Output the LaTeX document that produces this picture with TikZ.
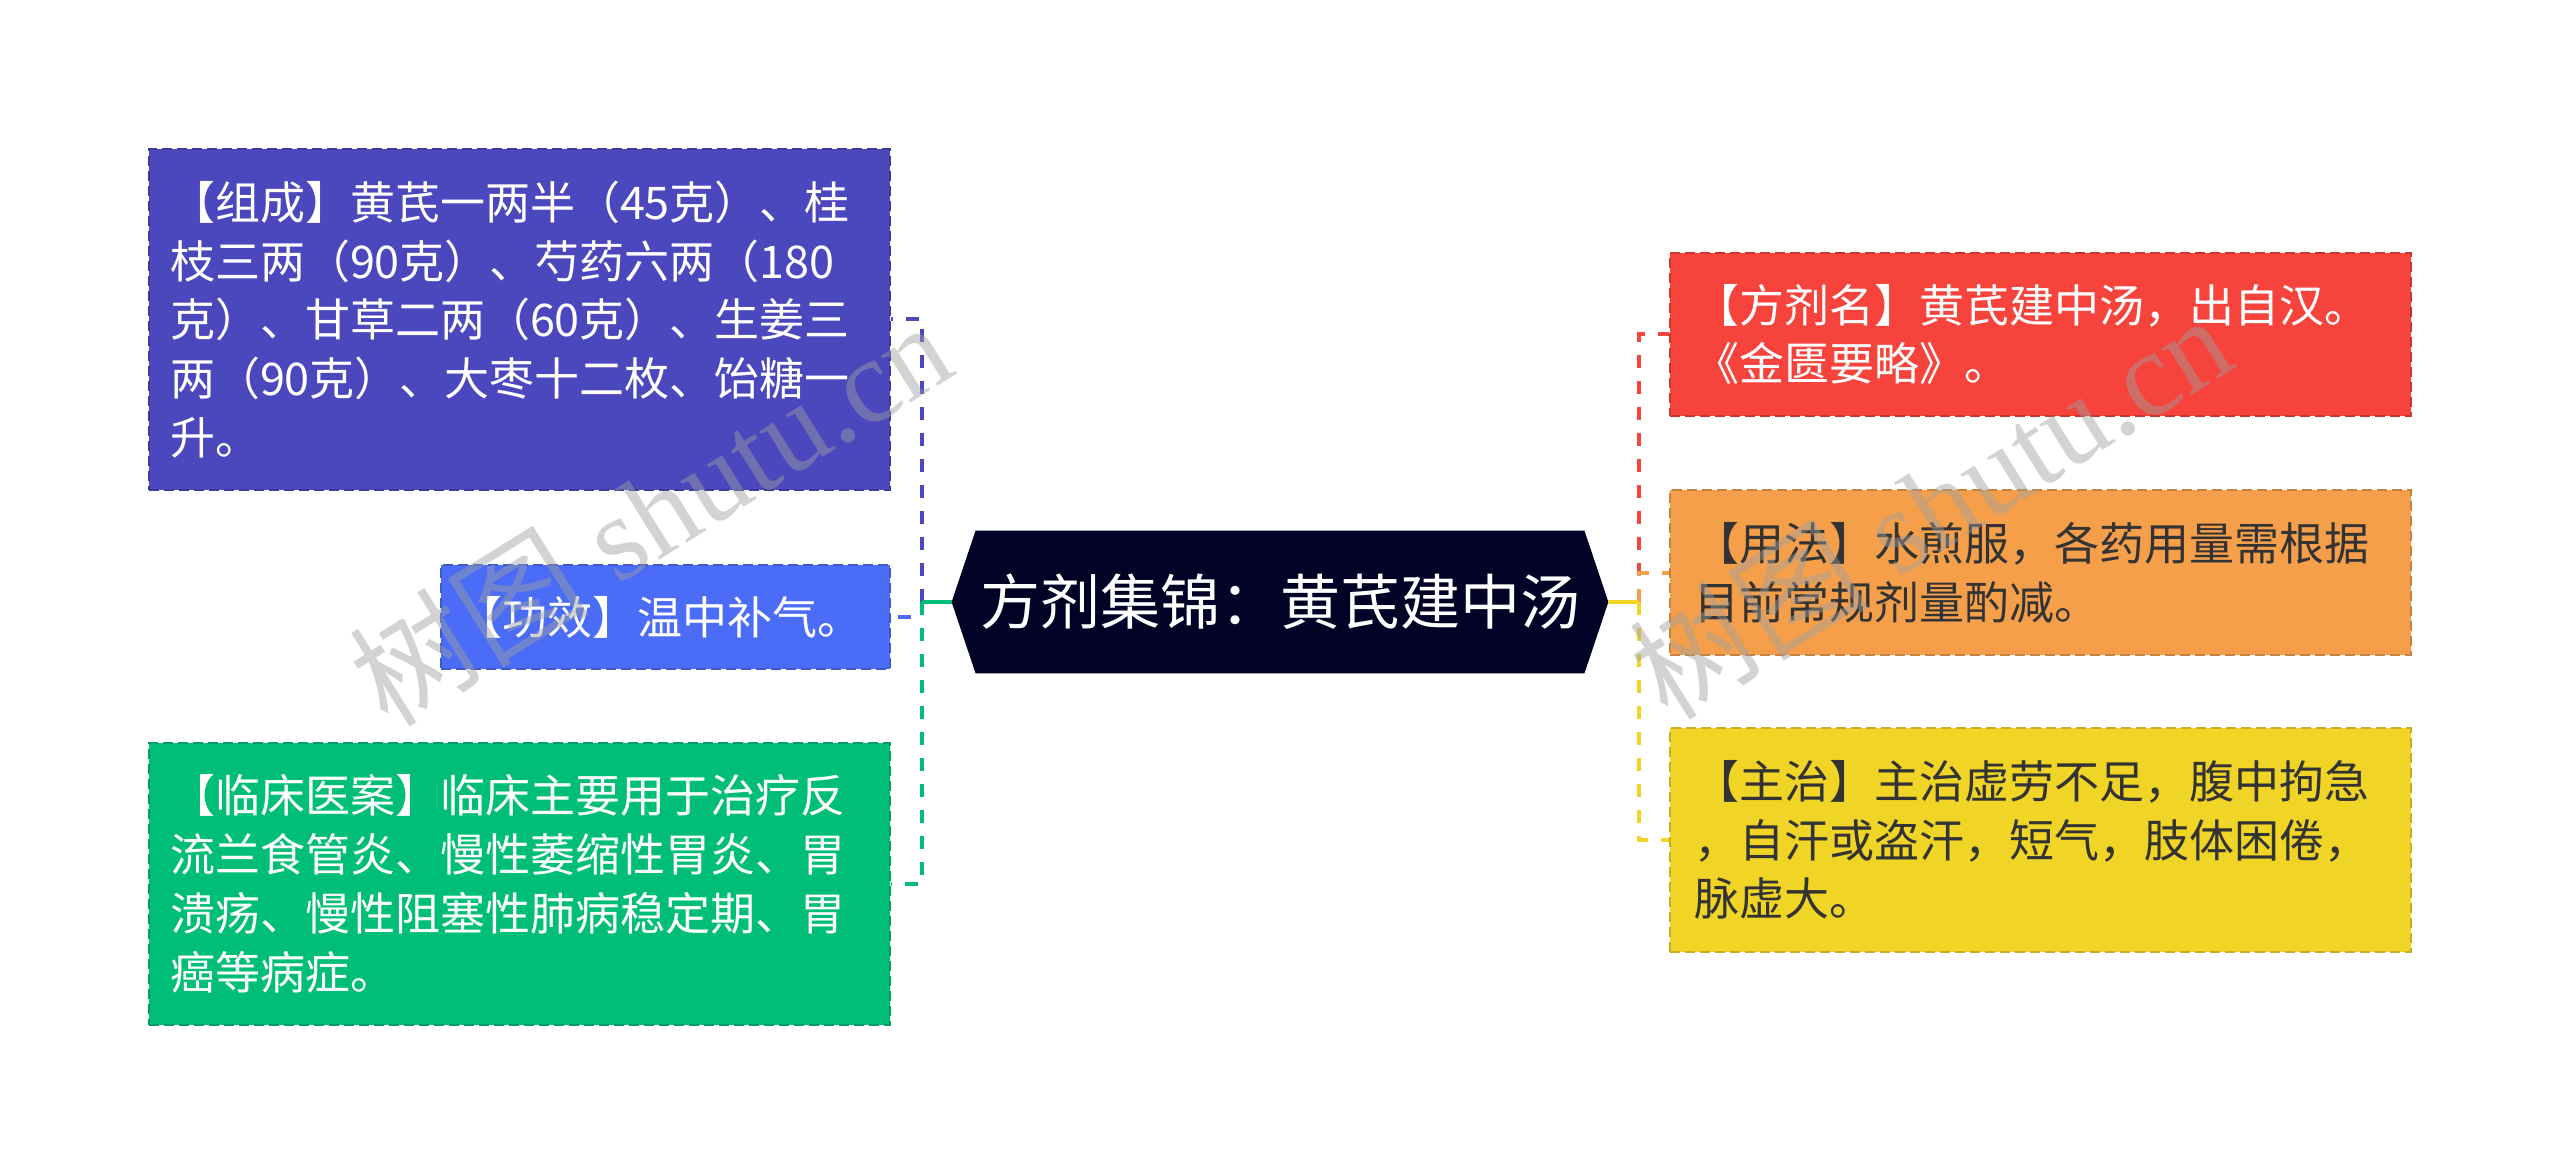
\documentclass[tikz,border=0pt]{standalone}
\usepackage{fontspec}
\newfontfamily\cjk{Noto Sans CJK SC}
\newfontfamily\wmlatin{Liberation Serif}
\usetikzlibrary{calc}
\definecolor{cComp}{HTML}{4B48BE}
\definecolor{cGong}{HTML}{4A6CF6}
\definecolor{cClin}{HTML}{00BE78}
\definecolor{cHex}{HTML}{020226}
\definecolor{cName}{HTML}{F6433C}
\definecolor{cUse}{HTML}{F59F4A}
\definecolor{cZhu}{HTML}{F0D426}
\definecolor{cDark}{HTML}{333333}
\begin{document}
\begin{tikzpicture}[x=0.5pt,y=-0.5pt,
  box/.style={rectangle, draw=#1!82!black, fill=#1, dash pattern=on 5pt off 2.5pt,
    line width=1pt, align=left, inner xsep=12pt, inner ysep=0pt,
    font=\cjk\fontsize{22.5}{29.4}\selectfont},
  widebox/.style={box=#1, text width=346.5pt, minimum width=370.5pt},
  leftbox/.style={box=#1, inner xsep=10.5pt, text width=349.5pt, minimum width=370.5pt},
  link/.style={draw=#1, line width=2pt, dash pattern=on 6.5pt off 6.5pt},
  stub/.style={draw=#1, line width=2pt},
  wm/.style={text=gray!75, text opacity=0.45, inner sep=0pt}
]
\useasboundingbox (0,0) rectangle (2560,1176);
\fill[white] (0,0) rectangle (2560,1176);

% left boxes
\node[leftbox=cComp, text=white, minimum height=170.5pt] (comp) at (519.5,319.5)
 {【组成】黄芪一两半（45克）、桂\\枝三两（90克）、芍药六两（180\\克）、甘草二两（60克）、生姜三\\两（90克）、大枣十二枚、饴糖一\\升。};
\node[box=cGong, text=white, inner xsep=8pt, text width=208.5pt, minimum width=224.5pt, minimum height=52pt] (gong) at (665.5,617)
 {【功效】温中补气。};
\node[leftbox=cClin, text=white, minimum height=141pt] (clin) at (519.5,884)
 {【临床医案】临床主要用于治疗反\\流兰食管炎、慢性萎缩性胃炎、胃\\溃疡、慢性阻塞性肺病稳定期、胃\\癌等病症。};

% right boxes
\node[widebox=cName, text=white, minimum height=81.5pt] (name) at (2040.5,334.5)
 {【方剂名】黄芪建中汤，出自汉。\\《金匮要略》。};
\node[widebox=cUse, text=cDark, minimum height=82.5pt] (usage) at (2040.5,572.5)
 {【用法】水煎服，各药用量需根据\\目前常规剂量酌减。};
\node[widebox=cZhu, text=cDark, minimum height=112pt] (zhu) at (2040.5,840)
 {【主治】主治虚劳不足，腹中拘急\\，自汗或盗汗，短气，肢体困倦，\\脉虚大。};

% central hexagon
\node[minimum width=328pt, minimum height=71pt, inner sep=0pt] (hex) at (1280,602) {};
\fill[cHex] (hex.west) -- ($(hex.north west)+(24,0)$) -- ($(hex.north east)+(-24,0)$)
  -- (hex.east) -- ($(hex.south east)+(-24,0)$) -- ($(hex.south west)+(24,0)$) -- cycle;
\node[text=white, font=\cjk\fontsize{30}{36}\selectfont, inner sep=0pt] (hextext) at (hex.center)
 {方剂集锦：黄芪建中汤};

% junctions
\coordinate (jl) at (922,602);
\coordinate (jr) at (1639,602);

% left connectors
\draw[link=cComp] (jl) |- (comp.east);
\draw[link=cGong] (jl) |- (gong.east);
\draw[link=cClin] (jl) |- (clin.east);
\draw[stub=cClin] (hex.west) -- (jl);

% right connectors
\draw[link=cName] (jr) |- (name.west);
\draw[link=cUse] (jr) |- (usage.west);
\draw[link=cZhu] (jr) |- (zhu.west);
\draw[stub=cZhu] (hex.east) -- (jr);

% watermarks
\node[wm, rotate=32] (wm1) at (650,512) {\cjk\fontsize{60}{62}\selectfont 树图\wmlatin\ shutu.cn};
\node[wm, rotate=32] (wm2) at (1930,505) {\cjk\fontsize{60}{62}\selectfont 树图\wmlatin\ shutu.cn};
\end{tikzpicture}
\end{document}
